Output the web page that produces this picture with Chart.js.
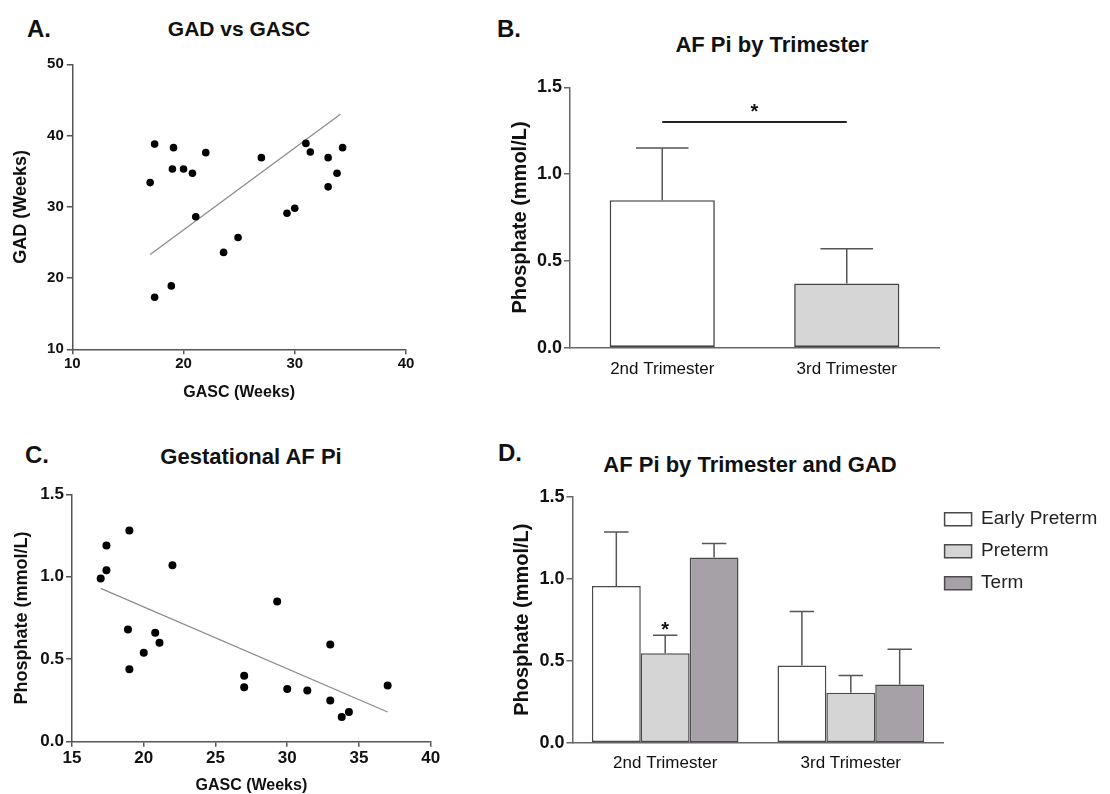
<!DOCTYPE html>
<html>
<head>
<meta charset="utf-8">
<script src="https://cdn.jsdelivr.net/npm/chart.js@4.4.1/dist/chart.umd.min.js"></script>
<style>
  html, body { margin: 0; padding: 0; background: #fff; overflow: hidden; }
  body { width: 1110px; height: 794px; position: relative; font-family: 'Liberation Sans', Arial, sans-serif; color: #111; }
  .box { position: absolute; }
  .lbl { position: absolute; font-weight: bold; white-space: nowrap; transform: translate(0, -50%); }
  .ttl { position: absolute; font-weight: bold; white-space: nowrap; transform: translate(-50%, -50%); }
</style>
</head>
<body>
<div class="lbl" style="left:27px;top:29px;font-size:24px;">A.</div>
<div class="ttl" style="left:239px;top:29px;font-size:21px;">GAD vs GASC</div>
<div class="lbl" style="left:497px;top:29px;font-size:24px;">B.</div>
<div class="ttl" style="left:772px;top:45px;font-size:22px;">AF Pi by Trimester</div>
<div class="lbl" style="left:25px;top:455px;font-size:24px;">C.</div>
<div class="ttl" style="left:251px;top:457px;font-size:22px;">Gestational AF Pi</div>
<div class="lbl" style="left:498px;top:453px;font-size:24px;">D.</div>
<div class="ttl" style="left:750px;top:465px;font-size:22px;">AF Pi by Trimester and GAD</div>

<div class="box" style="left:0px;top:40px;"><canvas id="cA" width="430" height="370"></canvas></div>
<div class="box" style="left:490px;top:40px;"><canvas id="cB" width="460" height="370"></canvas></div>
<div class="box" style="left:0px;top:440px;"><canvas id="cC" width="450" height="354"></canvas></div>
<div class="box" style="left:490px;top:440px;"><canvas id="cD" width="620" height="354"></canvas></div>

<script>
// ---------------- DATA ----------------
// Panel A: GAD vs GASC (weeks)
const gascA = [17.0, 17.4, 17.4, 18.9, 19.0, 19.1, 20.0, 20.8, 21.1, 22.0, 23.6, 24.9, 27.0, 29.3, 30.0, 31.0, 31.4, 33.0, 33.0, 33.8, 34.3];
const gadA  = [33.4, 38.8, 17.3, 18.9, 35.3, 38.3, 35.3, 34.7, 28.6, 37.6, 23.6, 25.7, 36.9, 29.1, 29.8, 38.9, 37.7, 36.9, 32.8, 34.7, 38.3];
const fitAx = [17.0, 34.1];
const fitAy = [23.3, 43.0];

// Panel B: AF Pi by trimester (mean, SEM)
const trimesters = ['2nd Trimester', '3rd Trimester'];
const meanB = [0.85, 0.37];
const semB  = [0.30, 0.20];
const sigB = { value: 1.30, star: 1.39 };

// Panel C: Gestational AF Pi
const gascC = [17.0, 17.4, 17.4, 19.0, 18.9, 19.0, 20.0, 20.8, 21.1, 22.0, 27.0, 27.0, 29.3, 30.0, 31.4, 33.0, 33.0, 33.8, 34.3, 37.0];
const piC   = [0.99, 1.04, 1.19, 1.28, 0.68, 0.44, 0.54, 0.66, 0.60, 1.07, 0.40, 0.33, 0.85, 0.32, 0.31, 0.59, 0.25, 0.15, 0.18, 0.34];
const fitCx = [17.0, 37.0];
const fitCy = [0.93, 0.18];

// Panel D: AF Pi by trimester and GAD (mean, SEM)
const groupsD = ['Early Preterm', 'Preterm', 'Term'];
const earlyPretermMean = [0.955, 0.47];
const earlyPretermSem  = [0.33, 0.33];
const pretermMean = [0.545, 0.305];
const pretermSem  = [0.11, 0.105];
const termMean = [1.13, 0.355];
const termSem  = [0.085, 0.215];
const starD = { dataset: 1, index: 0, value: 0.72 };

// ---------------- STYLE / PLUGINS ----------------
Chart.defaults.font.family = "'Liberation Sans', Arial, sans-serif";
Chart.defaults.color = '#111';
Chart.defaults.animation = false;

const errorBars = {
  id: 'errorBars',
  afterDatasetsDraw(chart, args, opts) {
    if (!opts || !opts.sem) return;
    const ctx = chart.ctx, ys = chart.scales.y;
    ctx.save();
    ctx.strokeStyle = opts.color; ctx.lineWidth = opts.width;
    opts.sem.forEach((arr, di) => {
      const meta = chart.getDatasetMeta(di);
      meta.data.forEach((bar, j) => {
        const mean = chart.data.datasets[di].data[j];
        const top = ys.getPixelForValue(mean + arr[j]);
        const half = bar.width * opts.capRatio / 2;
        ctx.beginPath();
        ctx.moveTo(bar.x, bar.y); ctx.lineTo(bar.x, top);
        ctx.moveTo(bar.x - half, top); ctx.lineTo(bar.x + half, top);
        ctx.stroke();
      });
    });
    ctx.restore();
  }
};

const annot = {
  id: 'annot',
  afterDatasetsDraw(chart, args, opts) {
    if (!opts) return;
    const ctx = chart.ctx, ys = chart.scales.y;
    ctx.save();
    if (opts.bracket) {
      const b = opts.bracket;
      const m = chart.getDatasetMeta(0);
      const y = ys.getPixelForValue(b.value);
      ctx.strokeStyle = '#222'; ctx.lineWidth = 2;
      ctx.beginPath(); ctx.moveTo(m.data[0].x, y); ctx.lineTo(m.data[1].x, y); ctx.stroke();
      drawStar(ctx, (m.data[0].x + m.data[1].x) / 2, ys.getPixelForValue(b.star));
    }
    if (opts.star) {
      const s = opts.star;
      const bar = chart.getDatasetMeta(s.dataset).data[s.index];
      drawStar(ctx, bar.x, ys.getPixelForValue(s.value));
    }
    ctx.restore();
  }
};
function drawStar(ctx, x, yc) {
  ctx.fillStyle = '#111';
  ctx.font = "bold 20px 'Liberation Sans', Arial, sans-serif";
  ctx.textAlign = 'center'; ctx.textBaseline = 'alphabetic';
  ctx.fillText('*', x, yc + 11.6);
}

const legendShift = {
  id: 'legendShift',
  afterLayout(chart) {
    const lg = chart.legend;
    if (!lg || !lg.options.display) return;
    const pad = lg.options.labels.padding;
    const dx = chart.chartArea.right + 1 - (lg.left + pad);
    lg.left += dx;
    lg.width = 220;
    lg.right = lg.left + lg.width;
  }
};

function linAxis(min, max, step, opt) {
  return {
    type: 'linear', min, max,
    ticks: { stepSize: step, font: { size: opt.tickSize, weight: 'bold' }, padding: opt.tickPad, color: '#111',
             callback: opt.fmt || (v => v) },
    grid: { drawOnChartArea: false, drawTicks: true, tickLength: opt.tickLen, color: opt.axisColor, lineWidth: 1.5 },
    border: { display: true, color: opt.axisColor, width: 1.5 },
    title: { display: true, text: opt.title, font: { size: opt.titleSize, weight: 'bold', lineHeight: opt.titleLH || 1.2 },
             padding: opt.titlePad, color: '#111' },
    afterFit: opt.fit
  };
}

// ---------------- PANEL A ----------------
new Chart(document.getElementById('cA'), {
  type: 'scatter',
  data: { datasets: [
    { type: 'scatter', data: gascA.map((x, i) => ({ x, y: gadA[i] })), pointRadius: 3.8, pointBackgroundColor: '#000', pointBorderColor: '#000', pointBorderWidth: 0 },
    { type: 'line', data: fitAx.map((x, i) => ({ x, y: fitAy[i] })), borderColor: '#8c8c8c', borderWidth: 1.3, pointRadius: 0, fill: false }
  ] },
  options: {
    responsive: false,
    layout: { padding: { left: 0, top: 24.3, right: 24, bottom: 0 } },
    plugins: { legend: { display: false }, tooltip: { enabled: false } },
    scales: {
      x: linAxis(10, 40, 10, { tickSize: 15, tickPad: 1, tickLen: 5, axisColor: '#555', title: 'GASC (Weeks)', titleSize: 16,
        titlePad: { top: 0, bottom: 7.7 }, fit: s => { s.height = 60.7; } }),
      y: linAxis(10, 50, 10, { tickSize: 15, tickPad: 3, tickLen: 5.5, axisColor: '#555', title: 'GAD (Weeks)', titleSize: 18,
        titlePad: { top: 10.2, bottom: 0 }, fit: s => { s.width = 72.3; } })
    }
  }
});

// ---------------- PANEL B ----------------
new Chart(document.getElementById('cB'), {
  type: 'bar',
  data: { labels: trimesters, datasets: [
    { data: meanB, backgroundColor: ['#ffffff', '#d6d6d6'], borderColor: '#444', borderWidth: 1.6, borderSkipped: false,
      categoryPercentage: 0.57, barPercentage: 1 }
  ] },
  options: {
    responsive: false,
    layout: { padding: { left: 0, top: 47.3, right: 11, bottom: 0 } },
    plugins: { legend: { display: false }, tooltip: { enabled: false },
      errorBars: { sem: [semB], color: '#555', width: 1.5, capRatio: 0.5 },
      annot: { bracket: sigB } },
    scales: {
      x: { type: 'category',
        ticks: { font: { size: 17 }, padding: 11, color: '#111' },
        grid: { display: true, drawOnChartArea: false, drawTicks: false, color: '#666' },
        border: { display: true, color: '#666', width: 1.5 },
        afterFit: s => { s.height = 62.3; } },
      y: linAxis(0, 1.5, 0.5, { tickSize: 18, tickPad: 2, tickLen: 6, axisColor: '#666', title: 'Phosphate (mmol/L)', titleSize: 20,
        titlePad: { top: 18.7, bottom: 0 }, fmt: v => v.toFixed(1), fit: s => { s.width = 80; } })
    }
  },
  plugins: [errorBars, annot]
});

// ---------------- PANEL C ----------------
new Chart(document.getElementById('cC'), {
  type: 'scatter',
  data: { datasets: [
    { type: 'scatter', data: gascC.map((x, i) => ({ x, y: piC[i] })), pointRadius: 4, pointBackgroundColor: '#000', pointBorderColor: '#000', pointBorderWidth: 0 },
    { type: 'line', data: fitCx.map((x, i) => ({ x, y: fitCy[i] })), borderColor: '#8c8c8c', borderWidth: 1.3, pointRadius: 0, fill: false }
  ] },
  options: {
    responsive: false,
    layout: { padding: { left: 0, top: 54.3, right: 19.3, bottom: 0 } },
    plugins: { legend: { display: false }, tooltip: { enabled: false } },
    scales: {
      x: linAxis(15, 40, 5, { tickSize: 17, tickPad: 1, tickLen: 5, axisColor: '#555', title: 'GASC (Weeks)', titleSize: 16, titleLH: 1,
        titlePad: { top: 0, bottom: 0 }, fit: s => { s.height = 52.3; } }),
      y: linAxis(0, 1.5, 0.5, { tickSize: 17, tickPad: 2, tickLen: 6, axisColor: '#555', title: 'Phosphate (mmol/L)', titleSize: 18,
        titlePad: { top: 11.5, bottom: 0 }, fmt: v => v.toFixed(1), fit: s => { s.width = 72; } })
    }
  }
});

// ---------------- PANEL D ----------------
const dBar = { borderColor: '#4a4a4a', borderWidth: 1.5, borderSkipped: false, categoryPercentage: 0.79, barPercentage: 1 };
new Chart(document.getElementById('cD'), {
  type: 'bar',
  data: { labels: trimesters, datasets: [
    Object.assign({ label: groupsD[0], data: earlyPretermMean, backgroundColor: '#ffffff' }, dBar),
    Object.assign({ label: groupsD[1], data: pretermMean, backgroundColor: '#d5d5d5' }, dBar),
    Object.assign({ label: groupsD[2], data: termMean, backgroundColor: '#a5a1a6' }, dBar)
  ] },
  options: {
    responsive: false,
    layout: { padding: { left: 0, top: 56.7, right: 16.4, bottom: 0 } },
    plugins: {
      legend: { display: true, position: 'right', align: 'start', maxWidth: 150,
        labels: { boxWidth: 27, boxHeight: 13, padding: 13, color: '#222', font: { size: 19 } } },
      tooltip: { enabled: false },
      errorBars: { sem: [earlyPretermSem, pretermSem, termSem], color: '#555', width: 1.5, capRatio: 0.5 },
      annot: { star: starD } },
    scales: {
      x: { type: 'category',
        ticks: { font: { size: 17 }, padding: 10, color: '#111' },
        grid: { display: true, drawOnChartArea: false, drawTicks: false, color: '#666' },
        border: { display: true, color: '#666', width: 1.5 },
        afterFit: s => { s.height = 51.3; } },
      y: linAxis(0, 1.5, 0.5, { tickSize: 18, tickPad: 2, tickLen: 6, axisColor: '#666', title: 'Phosphate (mmol/L)', titleSize: 20,
        titlePad: { top: 20.7, bottom: 0 }, fmt: v => v.toFixed(1), fit: s => { s.width = 82.4; } })
    }
  },
  plugins: [errorBars, annot, legendShift]
});
</script>
</body>
</html>
